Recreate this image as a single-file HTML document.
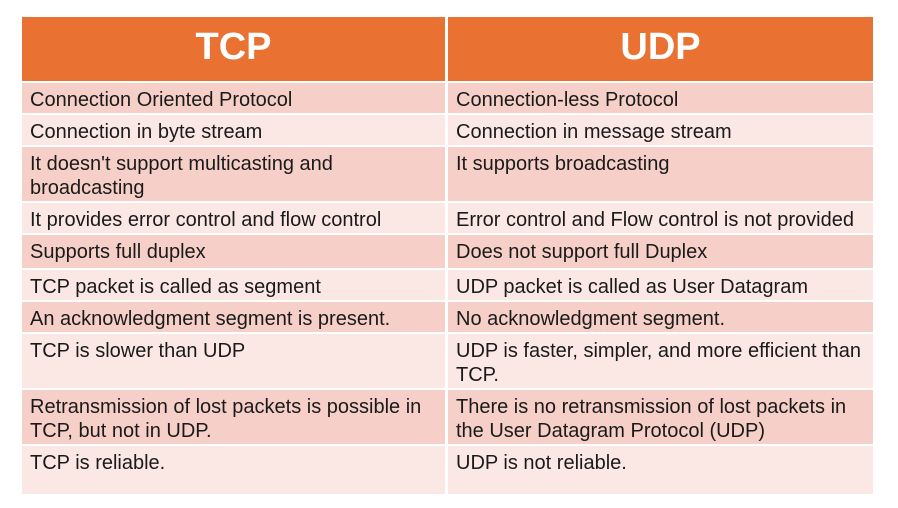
<!DOCTYPE html>
<html><head><style>
body{margin:0;width:898px;height:508px;background:#fff;position:relative;overflow:hidden;font-family:"Liberation Sans",sans-serif}
.c{position:absolute;box-sizing:border-box;padding:5px 0 0 8px;font-size:20px;line-height:24px;color:#1a1a1a;white-space:nowrap}
.h{position:absolute;top:17px;height:64px;background:#E97132;color:#fff;font-weight:bold;font-size:38px;text-align:center;line-height:60px}
.d{background:#F6D0C8}.l{background:#FBE8E5}
</style></head><body>
<div class="h" style="left:22px;width:423px">TCP</div>
<div class="h" style="left:448px;width:425px">UDP</div>
<div id="t"></div>
<script>
var rows=[[83,113,"Connection Oriented Protocol","Connection-less Protocol"],
[115,145,"Connection in byte stream","Connection in message stream"],
[147,201,"It doesn't support multicasting and<br>broadcasting","It supports broadcasting"],
[203,233,"It provides error control and flow control","Error control and Flow control is not provided"],
[235,268,"Supports full duplex","Does not support full Duplex"],
[270,300,"TCP packet is called as segment","UDP packet is called as User Datagram"],
[302,332,"An acknowledgment segment is present.","No acknowledgment segment."],
[334,388,"TCP is slower than UDP","UDP is faster, simpler, and more efficient than<br>TCP."],
[390,444,"Retransmission of lost packets is possible in<br>TCP, but not in UDP.","There is no retransmission of lost packets in<br>the User Datagram Protocol (UDP)"],
[446,494,"TCP is reliable.","UDP is not reliable."]];
var h="";rows.forEach(function(r,i){var cl=i%2?"l":"d";
h+='<div class="c '+cl+'" style="left:22px;width:423px;top:'+r[0]+'px;height:'+(r[1]-r[0])+'px">'+r[2]+'</div>';
h+='<div class="c '+cl+'" style="left:448px;width:425px;top:'+r[0]+'px;height:'+(r[1]-r[0])+'px">'+r[3]+'</div>';});
document.getElementById("t").innerHTML=h;
</script>
</body></html>
